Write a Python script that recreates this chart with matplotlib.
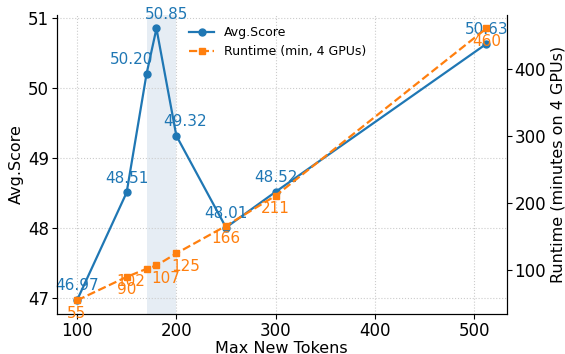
import matplotlib
matplotlib.use("Agg")
import matplotlib.pyplot as plt

max_tokens = [100, 150, 170, 180, 200, 250, 300, 512]
avg_score = [46.97, 48.51, 50.20, 50.85, 49.32, 48.01, 48.52, 50.63]
runtime = [55, 90, 102, 107, 125, 166, 211, 460]

# horizontal label nudges (points) to reduce overlap
label_dx = [0, 0, -11, 7, 6.5, 0, 0, 0]

blue = "#1f77b4"
orange = "#ff7f0e"

fig, ax = plt.subplots(figsize=(5.65, 3.54), dpi=100)
ax2 = ax.twinx()

ax.axvspan(170, 200, color="#c9d9e8", alpha=0.45, lw=0, zorder=0)
l1, = ax.plot(max_tokens, avg_score, "-o", color=blue, lw=1.6, ms=5, label="Avg.Score")
l2, = ax2.plot(max_tokens, runtime, "--s", color=orange, lw=1.6, ms=5, label="Runtime (min, 4 GPUs)")

for x, y, dx in zip(max_tokens, avg_score, label_dx):
    ax.annotate(f"{y:.2f}", (x, y), textcoords="offset points", xytext=(dx, 5),
                ha="center", va="bottom", color=blue, fontsize=11)
for x, y, dx in zip(max_tokens, runtime, label_dx):
    ax2.annotate(f"{y}", (x, y), textcoords="offset points", xytext=(dx, -4),
                 ha="center", va="top", color=orange, fontsize=11)

ax.set_xlabel("Max New Tokens", fontsize=11.5, labelpad=1)
ax.set_ylabel("Avg.Score", fontsize=11.5, labelpad=3)
ax2.set_ylabel("Runtime (minutes on 4 GPUs)", fontsize=11.5, labelpad=3)
ax.set_xticks([100, 200, 300, 400, 500])
ax.set_yticks([47, 48, 49, 50, 51])
ax2.set_yticks([100, 200, 300, 400])
ax.tick_params(labelsize=12, pad=2)
ax2.tick_params(labelsize=12, pad=2)
ax.grid(True, linestyle=":", color="#cccccc", lw=0.8)
ax.set_axisbelow(True)
for a in (ax, ax2):
    a.spines["top"].set_visible(False)

ax.legend(handles=[l1, l2], loc="upper left", bbox_to_anchor=(0.27, 1.0),
          frameon=False, fontsize=9)

fig.subplots_adjust(left=0.1, right=0.897, top=0.958, bottom=0.113)
fig.savefig("out.png", dpi=100)
